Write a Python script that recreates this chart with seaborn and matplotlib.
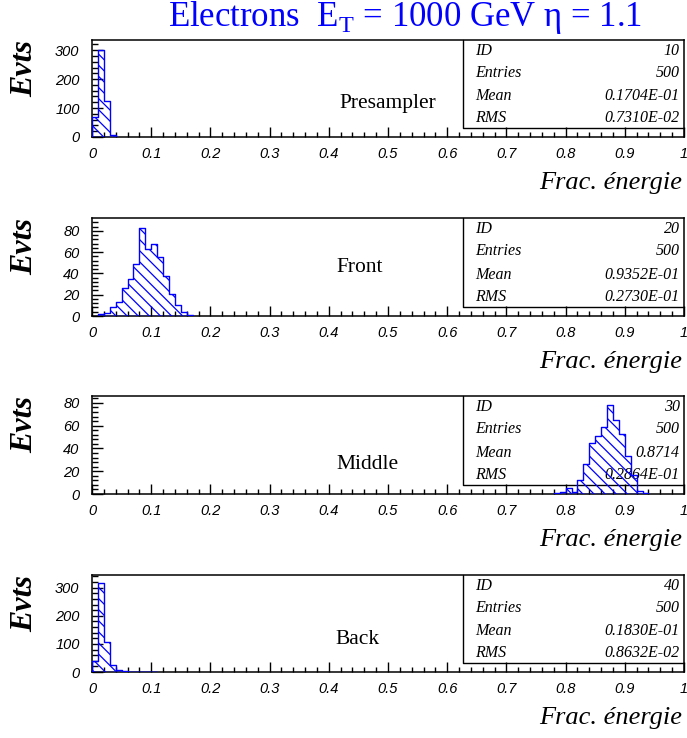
import numpy as np
import pandas as pd
import matplotlib
matplotlib.use("Agg")
import matplotlib.pyplot as plt
import seaborn as sns

# ---------------- data ----------------
title = "Electrons  E$_\\mathregular{T}$ = 1000 GeV η = 1.1"
panel_names = ["Presampler", "Front", "Middle", "Back"]
hist_ids = ["10", "20", "30", "40"]
entries = ["500", "500", "500", "500"]
means = ["0.1704E-01", "0.9352E-01", "0.8714", "0.1830E-01"]
rmss = ["0.7310E-02", "0.2730E-01", "0.2864E-01", "0.8632E-02"]

bin_width = 0.01
pre_lo = [0.00, 0.01, 0.02, 0.03]
pre_n = [70, 300, 125, 6]
front_lo = [0.01, 0.02, 0.03, 0.04, 0.05, 0.06, 0.07, 0.08, 0.09, 0.10,
            0.11, 0.12, 0.13, 0.14, 0.15, 0.16]
front_n = [2, 3, 8, 13, 26, 35, 49, 83, 63, 68, 55, 38, 21, 10, 4, 1]
mid_lo = [0.78, 0.79, 0.80, 0.81, 0.82, 0.83, 0.84, 0.85, 0.86, 0.87,
          0.88, 0.89, 0.90, 0.91, 0.92, 0.93]
mid_n = [1, 2, 5, 2, 12, 26, 45, 51, 59, 78, 65, 53, 33, 17, 3, 1]
back_lo = [0.00, 0.01, 0.02, 0.03, 0.04, 0.05, 0.06, 0.07, 0.08, 0.09, 0.10]
back_n = [40, 315, 107, 25, 7, 2, 0, 0, 0, 0, 1]

bins_lo = [pre_lo, front_lo, mid_lo, back_lo]
bins_n = [pre_n, front_n, mid_n, back_n]

x_ticks = [0, 0.1, 0.2, 0.3, 0.4, 0.5, 0.6, 0.7, 0.8, 0.9, 1.0]
x_tick_labels = ["0", "0.1", "0.2", "0.3", "0.4", "0.5", "0.6", "0.7", "0.8", "0.9", "1"]
y_ticks = [[0, 100, 200, 300], [0, 20, 40, 60, 80], [0, 20, 40, 60, 80], [0, 100, 200, 300]]
y_max = [335, 92, 86, 345]
y_minor = [20, 4, 4, 20]
x_label = "Frac. énergie"
y_label = "Evts"

# ---------------- layout ----------------
sns.set_style("white")
plt.rcParams["font.family"] = ["Liberation Serif", "DejaVu Serif"]
plt.rcParams["text.color"] = "black"
plt.rcParams["xtick.color"] = "black"
plt.rcParams["ytick.color"] = "black"
plt.rcParams["hatch.color"] = "blue"
plt.rcParams["hatch.linewidth"] = 0.9

W, H = 687, 738
fig = plt.figure(figsize=(W / 100, H / 100), dpi=100)

ax_px = [(40, 137), (218, 316), (396, 494), (575, 672)]
left_px, right_px = 92, 684
label_pos = [(0.50, 0.35), (0.453, 0.49), (0.466, 0.30), (0.449, 0.34)]

for i in range(4):
    top, bot = ax_px[i]
    ax = fig.add_axes([left_px / W, 1 - bot / H, (right_px - left_px) / W, (bot - top) / H])
    lo = bins_lo[i]
    df = pd.DataFrame({"x": np.array(lo) + bin_width / 2, "n": bins_n[i]})
    edges = [round(lo[0] + k * bin_width, 4) for k in range(len(lo) + 1)]
    sns.histplot(data=df, x="x", weights="n", bins=edges, element="step", fill=True,
                 color="blue", facecolor="none", edgecolor="blue", hatch="\\\\\\",
                 linewidth=1.0, ax=ax, zorder=3)
    ax.set_xlim(0, 1)
    ax.set_ylim(0, y_max[i])
    ax.set_xlabel("")
    ax.set_ylabel("")

    ax.set_xticks(x_ticks, labels=x_tick_labels, fontstyle="italic",
                  fontfamily="Liberation Sans", fontsize=10.5, color="black")
    ax.set_xticks(np.round(np.arange(0, 1.001, 0.02), 2), minor=True)
    ax.set_yticks(y_ticks[i], labels=[str(v) for v in y_ticks[i]], fontstyle="italic",
                  fontfamily="Liberation Sans", fontsize=10.5, color="black")
    ax.set_yticks(np.arange(0, y_max[i], y_minor[i]), minor=True)
    ax.tick_params(axis="x", which="major", direction="in", length=7, width=1,
                   pad=7, bottom=True, top=False, color="black")
    ax.tick_params(axis="x", which="minor", direction="in", length=3.6, width=1,
                   bottom=True, top=False, color="black")
    ax.tick_params(axis="y", which="major", direction="in", length=8, width=1,
                   pad=9, left=True, right=False, color="black")
    ax.tick_params(axis="y", which="minor", direction="in", length=4.5, width=1,
                   left=True, right=False, color="black")
    for s in ax.spines.values():
        s.set_color("black")
        s.set_linewidth(1.1)

    # statistics box
    bx0, by0 = 0.627, 0.093
    ax.plot([bx0, bx0, 1.0], [1.0, by0, by0], transform=ax.transAxes, color="black",
            lw=1.0, zorder=1, clip_on=False)
    rows = [("ID", hist_ids[i]), ("Entries", entries[i]), ("Mean", means[i]), ("RMS", rmss[i])]
    row_y = [0.887, 0.66, 0.423, 0.196]
    for (k, v), yy in zip(rows, row_y):
        ax.text(0.647, yy, k, transform=ax.transAxes, ha="left", va="center",
                fontstyle="italic", fontsize=11.5, zorder=1, color="black")
        ax.text(0.993, yy, v, transform=ax.transAxes, ha="right", va="center",
                fontstyle="italic", fontsize=11.5, zorder=1, color="black")

    ax.text(label_pos[i][0], label_pos[i][1], panel_names[i], transform=ax.transAxes,
            ha="center", va="center", fontsize=15.5, color="black")
    ax.text(-0.113, 1.0, y_label, transform=ax.transAxes, rotation=90, ha="center",
            va="top", fontsize=23, fontweight="bold", fontstyle="italic", color="black")
    ax.text(0.997, -0.47, x_label, transform=ax.transAxes, ha="right", va="center",
            fontsize=19, fontstyle="italic", color="black")

fig.text(405 / W, 1 - 18 / H, title, ha="center", va="center", color="blue", fontsize=25)

fig.savefig("out.png", dpi=100)
